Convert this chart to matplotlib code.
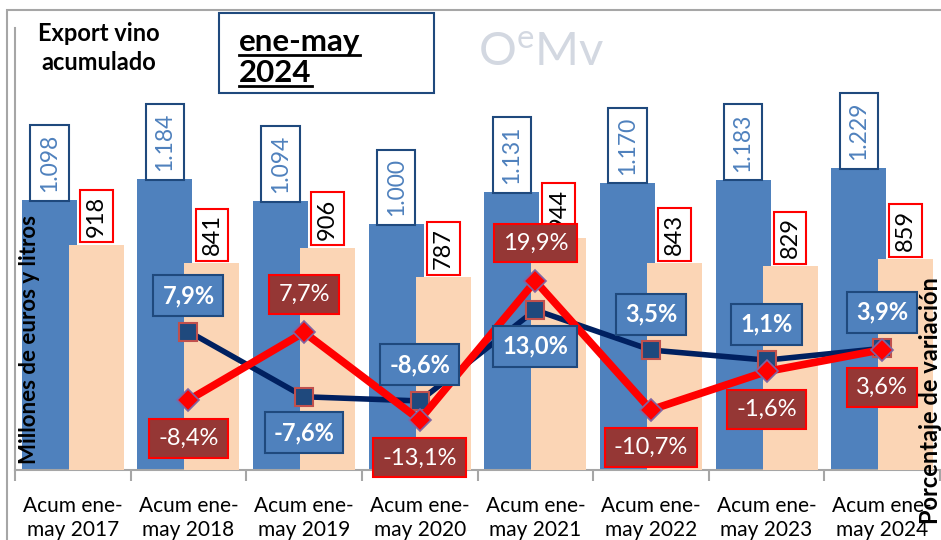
import numpy as np
import matplotlib
import matplotlib.pyplot as plt
from matplotlib.lines import Line2D
from matplotlib.patches import Rectangle

matplotlib.use('Agg')

plt.rcParams['font.family'] = ['Lato', 'DejaVu Sans']

# Datos
anios = ['2017', '2018', '2019', '2020', '2021', '2022', '2023', '2024']
categorias = [f'Acum ene-\nmay {a}' for a in anios]
valor = [1098, 1184, 1094, 1000, 1131, 1170, 1183, 1229]
volumen = [918, 841, 906, 787, 944, 843, 829, 859]
var_valor = [np.nan, 7.9, -7.6, -8.6, 13.0, 3.5, 1.1, 3.9]
var_volumen = [np.nan, -8.4, 7.7, -13.1, 19.9, -10.7, -1.6, 3.6]

# posicion de las etiquetas de % (1 arriba, -1 abajo)
lado_valor = [0, 1, -1, 1, -1, 1, 1, 1]
lado_volumen = [0, -1, 1, -1, 1, -1, -1, -1]

c_azul = '#4f81bd'
c_melocoton = '#fbd5b5'
c_navy = '#002060'
c_rojo = '#ff0000'
c_granate = '#953735'
c_borde = '#1f497d'


def fmt_miles(v):
    return f'{v:,}'.replace(',', '.')


def fmt_pct(v):
    return f'{v:.1f}'.replace('.', ',') + '%'


fig = plt.figure(figsize=(9.41, 5.40), dpi=100)
W, H = 941, 540

# marco exterior
fig.add_artist(Rectangle((7 / W, -0.1), 1.1, 1 - 10 / H + 0.1, transform=fig.transFigure,
                         fill=False, ec='#a6a6a6', lw=1.5, zorder=10))

ax = fig.add_axes([15 / W, 1 - 470 / H, 925 / W, 442 / H])
ax2 = ax.twinx()
ax.patch.set_visible(False)
ax2.patch.set_visible(False)

x = np.arange(len(anios))
ancho = 0.476
ax.bar(x - 0.203, valor, ancho, color=c_azul, zorder=2)
ax.bar(x + 0.203, volumen, ancho, color=c_melocoton, zorder=3)

ax.set_xlim(-0.5, len(anios) - 0.5)
ax.set_ylim(0, 1800)
ax2.set_ylim(-25, 80)

# etiquetas de las barras
for i in range(len(anios)):
    ax.annotate(fmt_miles(valor[i]), (x[i] - 0.203, valor[i]), xytext=(0, 8),
                textcoords='offset pixels', rotation=90, ha='center', va='bottom',
                fontsize=16.5, color=c_azul, zorder=5,
                bbox=dict(boxstyle='square,pad=0.38', fc='white', ec=c_borde, lw=1.5))
    ax.annotate(str(volumen[i]), (x[i] + 0.203, volumen[i]), xytext=(0, 8),
                textcoords='offset pixels', rotation=90, ha='center', va='bottom',
                fontsize=17, color='black', zorder=6,
                bbox=dict(boxstyle='square,pad=0.25', fc='white', ec=c_rojo, lw=1.5))

# lineas de variacion
ax.set_zorder(1)
ax2.set_zorder(2)
ax2.plot(x, var_valor, color=c_navy, lw=4, marker='s', ms=13,
         mfc='#1f497d', mec='#c0504d', mew=1.5, zorder=3)
ax2.plot(x, var_volumen, color=c_rojo, lw=5.5, marker='D', ms=11,
         mfc=c_rojo, mec='#8064a2', mew=1.2, zorder=4)

for i in range(1, len(anios)):
    ax2.annotate(fmt_pct(var_valor[i]), (x[i], var_valor[i]), xytext=(0, 36 * lado_valor[i]),
                 textcoords='offset pixels', ha='center', va='center', fontsize=17,
                 fontweight='bold', color='white', zorder=7,
                 bbox=dict(boxstyle='square,pad=0.38', fc=c_azul, ec=c_borde, lw=1.5))
    ax2.annotate(fmt_pct(var_volumen[i]), (x[i], var_volumen[i]), xytext=(0, 38 * lado_volumen[i]),
                 textcoords='offset pixels', ha='center', va='center', fontsize=17,
                 color='white', zorder=8,
                 bbox=dict(boxstyle='square,pad=0.38', fc=c_granate, ec=c_rojo, lw=1.5))

# ejes
for s in ['top', 'right']:
    ax.spines[s].set_visible(False)
for s in ax2.spines:
    ax2.spines[s].set_visible(False)
ax.spines['left'].set_color('#a6a6a6')
ax.spines['bottom'].set_color('#a6a6a6')
ax.spines['left'].set_linewidth(1.5)
ax.spines['bottom'].set_linewidth(1.5)
ax.set_yticks([])
ax2.set_yticks([])
ax.set_xticks(x, categorias, fontsize=15)
ax.tick_params(axis='x', which='major', length=0, pad=19)
ax.set_xticks(np.arange(-0.5, len(anios)), minor=True)
ax.tick_params(axis='x', which='minor', length=8, color='#a6a6a6', width=1.5)

# textos
fig.text(99 / W, 1 - 48 / H, 'Export vino\nacumulado', ha='center', va='center',
         fontsize=17, fontweight='bold', linespacing=1.3)
fig.text(30 / W, 1 - 339 / H, 'Millones de euros y litros', rotation=90,
         ha='center', va='center', fontsize=16, fontweight='bold')
fig.text(930 / W, 1 - 277 / H, 'Porcentaje de variación', rotation=90,
         ha='center', va='top', fontsize=17, fontweight='bold')

# caja del periodo
fig.add_artist(Rectangle((219 / W, 1 - 93 / H), 215 / W, 80 / H, transform=fig.transFigure,
                         fill=False, ec=c_borde, lw=1.5, zorder=10))
t1 = fig.text(239 / W, 1 - 42 / H, 'ene-may', ha='left', va='center',
              fontsize=22.5, fontweight='bold')
t2 = fig.text(239 / W, 1 - 73 / H, '2024', ha='left', va='center',
              fontsize=22.5, fontweight='bold')

# logo (marca de agua)
plt.rcParams['mathtext.fontset'] = 'custom'
plt.rcParams['mathtext.rm'] = 'Lato'
fig.text(478 / W, 1 - 66 / H, r'O$^{\mathregular{e}}$Mv', ha='left', va='baseline',
         fontsize=34, color='#d3d8e1')

# subrayado
fig.canvas.draw()
r = fig.canvas.get_renderer()
for t in [t1, t2]:
    bb = t.get_window_extent(r)
    yy = (bb.y0 + 1) / fig.bbox.height
    fig.add_artist(Line2D([bb.x0 / fig.bbox.width, bb.x1 / fig.bbox.width], [yy, yy],
                          transform=fig.transFigure, color='black', lw=2))

fig.savefig('out.png', dpi=100)
